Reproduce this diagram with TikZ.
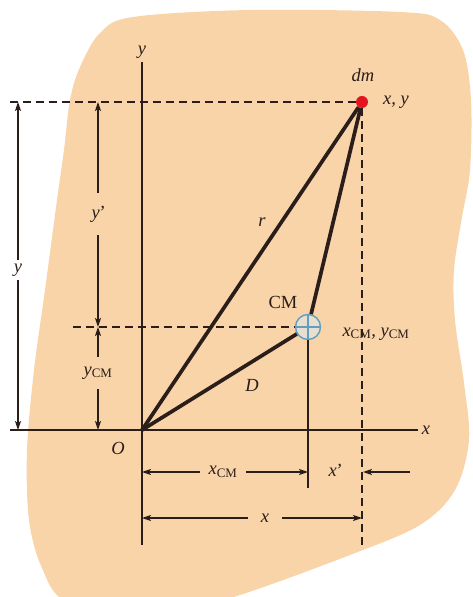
\documentclass[tikz,border=0pt]{standalone}
\usepackage{fontspec}
\setmainfont{Liberation Serif}
\usetikzlibrary{arrows.meta}
\definecolor{peach}{HTML}{F8D4A8}
\definecolor{ink}{HTML}{2A1D1A}
\definecolor{cmblue}{HTML}{5E9FC2}
\definecolor{dotred}{HTML}{E3141E}
\newcommand\cmsub{\textsubscript{\upshape CM}}
\newcommand\prm{\kern-1.5pt’}
\begin{document}
\begin{tikzpicture}[x=1pt,y=1pt,line join=round,>={Stealth[length=9pt,width=6pt,inset=2pt]},
		font=\fontsize{18.5}{22}\selectfont\itshape,color=ink,
		dim/.style={->,line width=1.2pt},
		axis/.style={line width=1.3pt},
		guide/.style={line width=1.3pt,dash pattern=on 8pt off 5pt},
		bar/.style={line width=3.7pt}]
		\useasboundingbox (-142,-167) rectangle (330,430);
		\clip (-142,-167) rectangle (330,430);
		% body
		\fill[peach] plot[smooth cycle,tension=0.55] coordinates {
			(-9,413) (-42,397) (-62,363) (-72,330) (-78,280) (-85,230) (-97,140)
			(-108,60) (-115,-20) (-113,-90) (-100,-138) (-75,-172) (8,-190)
			(98,-165) (208,-125) (278,-95) (313,-60) (327,-10) (322,47)
			(313,110) (312,160) (320,213) (328,260) (329,330) (321,380)
			(298,410) (258,418) (108,420)};
		% points
		\coordinate (O) at (0,0);
		\node[circle,fill=dotred,minimum size=12pt,inner sep=0pt] (P) at (220,328) {};
		\node[circle,draw=cmblue,fill=peach!80!cmblue!60!white,line width=1.4pt,minimum size=25pt,inner sep=0pt] (C) at (166,103) {};
		\draw[cmblue,line width=1.2pt] (C.west) -- (C.east) (C.north) -- (C.south);
		% axes
		\node (xlab) at (284,0) {x};
		\node (ylab) at (0,378) {y};
		\coordinate (xl) at (-132,0);
		\coordinate (yb) at (0,-115);
		\draw[axis] (xl) -- (xlab);
		\draw[axis] (yb) -- (ylab);
		% guides
		\coordinate (gt) at (-132,328);
		\coordinate (gc) at (-69,103);
		\coordinate (gb) at (220,-115);
		\coordinate (cb) at (166,-58);
		\draw[guide] (gt) -- (P);
		\draw[guide] (P) -- (gb);
		\draw[guide] (gc) -- (C);
		\draw[axis] (C.south) -- (cb);
		% vectors
		\draw[bar] (O) -- (P);
		\draw[bar] (O) -- (C);
		\draw[bar] (C) -- (P);
		% labels
		\node (dm) at (221,355) {dm};
		\node[font=\fontsize{18.5}{22}\selectfont\upshape] (cm) at (141,128) {CM};
		\node (xy) at (254,328) {x, y};
		\node (xycm) at (234,96) {x\cmsub, y\cmsub};
		\node (r) at (120,208) {r};
		\node (D) at (110,45) {D};
		\node (o) at (-24,-18) {O};
		% vertical dimensions
		\node (ly) at (-124,160) {y};
		\node[minimum height=42pt] (lyp) at (-44,216) {y\prm};
		\node[minimum height=32pt] (lycm) at (-44,57) {y\cmsub};
		\coordinate (ly1) at (-124,328);
		\coordinate (ly0) at (-124,0);
		\coordinate (lyp1) at (-44,328);
		\coordinate (lyp0) at (-44,103);
		\coordinate (lycm1) at (-44,103);
		\coordinate (lycm0) at (-44,0);
		\draw[dim] (ly) -- (ly1);
		\draw[dim] (ly) -- (ly0);
		\draw[dim] (lyp) -- (lyp1);
		\draw[dim] (lyp) -- (lyp0);
		\draw[dim] (lycm) -- (lycm1);
		\draw[dim] (lycm) -- (lycm0);
		% horizontal dimensions
		\node[minimum width=46pt] (lxcm) at (81,-42) {x\cmsub};
		\node (lxp) at (193,-40) {x\prm};
		\node[minimum width=34pt] (lx) at (123,-88) {x};
		\coordinate (lxcm0) at (0,-42);
		\coordinate (lxcm1) at (166,-42);
		\coordinate (lxp0) at (268,-42);
		\coordinate (lxp1) at (221,-42);
		\coordinate (lx0) at (0,-88);
		\coordinate (lx1) at (220,-88);
		\draw[dim] (lxcm) -- (lxcm0);
		\draw[dim] (lxcm) -- (lxcm1);
		\draw[dim] (lxp0) -- (lxp1);
		\draw[dim] (lx) -- (lx0);
		\draw[dim] (lx) -- (lx1);
\end{tikzpicture}
\end{document}
